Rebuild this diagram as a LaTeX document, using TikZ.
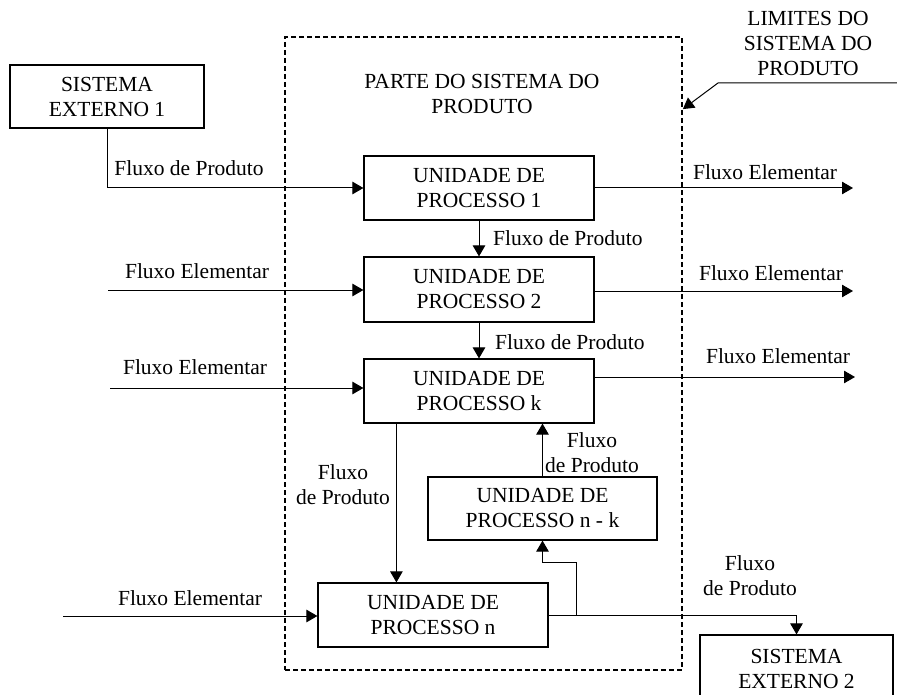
\documentclass[tikz,border=0pt]{standalone}
\usepackage{fontspec}
\setmainfont{Liberation Serif}
\usetikzlibrary{arrows.meta}

\tikzset{
  caixa/.style={draw, line width=1.2pt, minimum width=230pt, minimum height=64pt, inner sep=0pt, align=center},
  rotulo/.style={inner sep=0pt, align=center},
  fluxo/.style={line width=1pt, -{Triangle[length=11pt,width=12.5pt]}},
}

\begin{document}
\begin{tikzpicture}[x=1pt,y=-1pt,font=\fontsize{21.5}{25}\selectfont]
  \useasboundingbox (0,0) rectangle (897,695);

  % limites do sistema
  \node[draw, line width=1.8pt, dash pattern=on 5pt off 3pt, minimum width=397pt, minimum height=633pt, inner sep=0pt] (limite) at (483.5,353.5) {};
  \node[rotulo] (tparte) at (482,93.5) {PARTE DO SISTEMA DO\\PRODUTO};
  \node[rotulo] (tlim) at (808,43) {LIMITES DO\\SISTEMA DO\\PRODUTO};
  \coordinate (limfim) at (897,83);
  \coordinate (limdobra) at (718,83);
  \draw[fluxo] (limfim) -- (limdobra) -- ([yshift=-73pt]limite.north east);

  % caixas
  \node[caixa, minimum width=194pt, minimum height=63pt] (ext1) at (107,96.5) {SISTEMA\\EXTERNO 1};
  \node[caixa] (up1) at (479,188) {UNIDADE DE\\PROCESSO 1};
  \node[caixa, minimum height=65pt] (up2) at (479,289.5) {UNIDADE DE\\PROCESSO 2};
  \node[caixa] (upk) at (479,391) {UNIDADE DE\\PROCESSO k};
  \node[caixa, minimum width=229pt, minimum height=63pt] (upnk) at (542.5,508.5) {UNIDADE DE\\PROCESSO n - k};
  \node[caixa] (upn) at (433,615) {UNIDADE DE\\PROCESSO n};
  \node[caixa, minimum width=193pt, minimum height=67pt] (ext2) at (796.5,668.5) {SISTEMA\\EXTERNO 2};

  % entradas e saidas
  \coordinate (ent2) at (108,290);
  \coordinate (ent3) at (110,388);
  \coordinate (entn) at (63,616);
  \coordinate (sai1) at (853,188);
  \coordinate (sai2) at (853,291);
  \coordinate (saik) at (855,377);
  \foreach \u/\e in {up2/ent2, upk/ent3, upn/entn} % fluxos elementares de entrada
    \draw[fluxo] (\e) -- (\e -| \u.west);
  \foreach \u/\s in {up1/sai1, up2/sai2, upk/saik} % fluxos elementares de saida
    \draw[fluxo] (\s -| \u.east) -- (\s);

  % fluxos de produto
  \draw[fluxo] (ext1.south) |- (up1.west);
  \draw[fluxo] (up1.south) -- (up2.north);
  \draw[fluxo] (up2.south) -- (upk.north);
  \draw[fluxo] ([xshift=33pt]upk.south west) -- ([xshift=33pt]upk.south west |- upn.north);
  \draw[fluxo] (upnk.north) -- (upnk.north |- upk.south);
  \draw[fluxo] (upn.east) -| (ext2.north);
  \coordinate (ramo) at ([xshift=28pt]upn.east);
  \draw[fluxo] (ramo) -- ++(0,-53) -| (upnk.south);

  % rotulos
  \node[rotulo] (f1) at (189,168) {Fluxo de Produto};
  \node[rotulo] (f2) at (765,172) {Fluxo Elementar};
  \node[rotulo, anchor=west] (f3) at (493,238) {Fluxo de Produto};
  \node[rotulo] (f4) at (197,271) {Fluxo Elementar};
  \node[rotulo] (f5) at (771,273) {Fluxo Elementar};
  \node[rotulo, anchor=west] (f6) at (495,342) {Fluxo de Produto};
  \node[rotulo] (f7) at (195,367) {Fluxo Elementar};
  \node[rotulo] (f8) at (778,356) {Fluxo Elementar};
  \node[rotulo] (f9) at (343,484.5) {Fluxo\\de Produto};
  \node[rotulo] (f10) at (592,452.5) {Fluxo\\de Produto};
  \node[rotulo] (f11) at (750,576) {Fluxo\\de Produto};
  \node[rotulo] (f12) at (190,598) {Fluxo Elementar};
\end{tikzpicture}
\end{document}
